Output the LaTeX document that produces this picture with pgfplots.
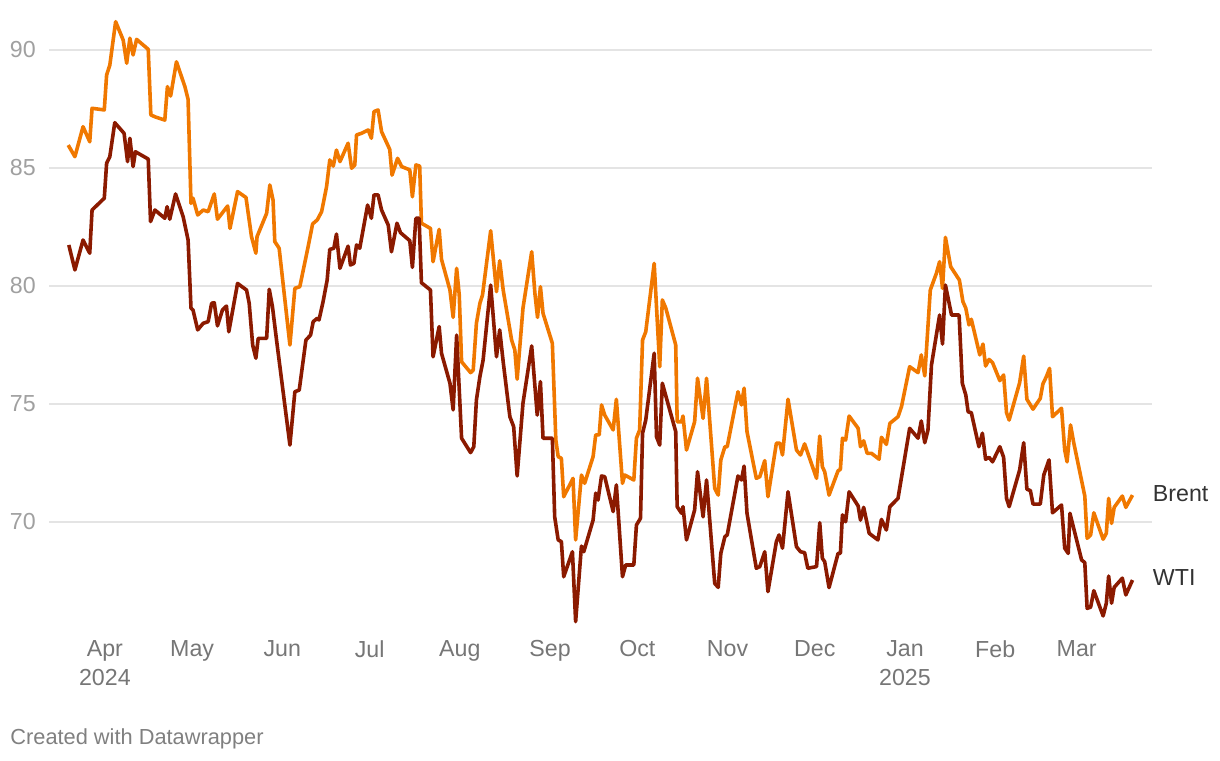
\documentclass[border=0pt]{standalone}
\usepackage{pgfplots}
\pgfplotsset{compat=1.18}
\usepackage{fontspec}
\setmainfont{Liberation Sans}
\definecolor{brent}{RGB}{240,120,0}
\definecolor{wti}{RGB}{139,26,0}
\definecolor{gridc}{RGB}{228,228,228}
\definecolor{ylab}{RGB}{160,160,160}
\definecolor{xlab}{RGB}{118,118,118}
\definecolor{foot}{RGB}{128,128,128}
\definecolor{lab}{RGB}{51,51,51}
\begin{document}
\begin{tikzpicture}
\path[use as bounding box] (-24.65pt,-65.9pt) rectangle (585.35pt,314.1pt);
\begin{axis}[
    scale only axis,
    width=551.2pt, height=306.8pt,
    xmin=-19.1, xmax=359.8,
    ymin=65.5, ymax=91.5,
    axis line style={draw=none},
    major tick length=0pt,
    ytick={70,75,80,85,90},
    ymajorgrids,
    grid style={gridc, line width=0.9pt},
    % x = days since 1 April 2024
    xtick={0,30,61,91,122,153,183,214,244,275,306,334},
    xticklabels={Apr\\2024,May,Jun,Jul,Aug,Sep,Oct,Nov,Dec,Jan\\2025,Feb,Mar},
    xticklabel style={align=center, anchor=north, inner sep=0pt, yshift=-5.9pt,
        text=xlab, font=\fontsize{11.6}{14.65}\selectfont},
    yticklabel style={anchor=east, inner sep=0pt, xshift=-6.6pt,
        text=ylab, font=\fontsize{11.6}{14}\selectfont},
    /pgf/number format/assume math mode=true,
    clip=false,
    every axis plot/.append style={line width=1.8pt, line join=round, no marks},
]
% Brent
\addplot[color=brent] coordinates {
(-12.6,85.97)(-10.3,85.48)(-7.5,86.75)(-5.2,86.11)(-4.4,87.53)(-0.2,87.46)(0.6,88.94)(1.7,89.36)
(3.7,91.20)(6.3,90.42)(7.5,89.44)(8.6,90.50)(9.7,89.79)(10.9,90.45)(14.9,90.03)(15.8,87.25)
(17.2,87.17)(20.6,87.03)(21.5,88.45)(22.6,88.05)(24.6,89.50)(27.5,88.45)(28.6,87.91)(29.6,83.50)
(30.3,83.72)(31.9,83.01)(33.8,83.22)(35.5,83.15)(37.6,83.90)(38.7,82.83)(42.2,83.39)(43.0,82.44)
(45.6,84.00)(48.5,83.75)(50.4,82.09)(51.9,81.39)(52.3,82.09)(55.6,83.08)(56.7,84.28)(57.8,83.64)
(58.4,81.88)(59.9,81.60)(63.6,77.50)(65.3,79.90)(67.0,79.97)(69.9,81.69)(71.4,82.63)(73.0,82.80)
(74.5,83.15)(76.2,84.21)(77.3,85.34)(78.5,85.08)(79.6,85.76)(80.8,85.27)(83.6,86.05)(84.8,84.99)
(85.9,85.13)(86.5,86.40)(88.2,86.47)(90.5,86.61)(91.6,86.26)(92.5,87.39)(93.9,87.46)(95.1,86.54)
(97.9,85.79)(98.7,84.70)(100.6,85.41)(102.0,85.06)(104.8,84.92)(105.7,83.78)(106.9,85.13)(108.2,85.08)
(108.8,82.66)(111.9,82.44)(112.8,81.03)(114.9,82.40)(115.7,81.13)(118.6,79.83)(119.7,78.67)(120.9,80.75)
(121.8,79.62)(122.6,76.79)(125.7,76.33)(126.6,76.44)(127.7,78.42)(128.9,79.27)(129.8,79.62)(132.6,82.34)
(134.6,79.76)(135.7,81.07)(136.9,79.83)(139.8,77.71)(140.9,77.29)(141.7,76.05)(143.7,79.06)(146.7,81.45)
(147.8,79.69)(148.7,78.67)(149.7,79.97)(150.6,78.84)(153.8,77.57)(155.0,73.47)(155.8,72.77)(156.9,72.70)
(157.7,71.07)(160.9,71.85)(161.8,69.24)(163.8,71.99)(164.9,71.64)(167.8,72.77)(168.7,73.69)(169.9,73.69)
(170.7,74.96)(171.8,74.53)(174.7,73.90)(175.8,75.20)(177.9,71.64)(178.7,71.99)(181.8,71.78)(182.7,73.55)
(183.8,73.90)(184.8,77.71)(185.9,78.06)(188.8,80.96)(190.7,76.58)(191.6,79.41)(192.8,79.06)(196.2,77.50)
(196.7,74.25)(198.2,74.25)(198.7,74.49)(199.9,73.05)(202.7,74.25)(203.7,76.09)(205.6,74.39)(206.8,76.09)
(209.6,71.43)(210.8,71.14)(211.7,72.63)(213.1,73.19)(213.9,73.19)(217.6,75.52)(218.8,74.96)(219.7,75.67)
(220.7,73.83)(223.9,71.85)(225.1,71.92)(226.8,72.60)(227.9,71.07)(230.8,73.34)(232.0,73.34)(232.9,72.84)
(234.8,75.20)(237.7,73.05)(239.1,72.84)(240.5,73.31)(244.6,71.85)(245.7,73.64)(246.6,72.34)(247.4,72.13)
(248.9,71.14)(252.0,72.17)(252.8,72.23)(253.5,73.55)(254.6,73.47)(255.8,74.49)(258.9,73.97)(259.7,73.19)
(260.8,73.44)(262.0,72.91)(263.5,72.91)(266.1,72.66)(266.9,73.59)(268.6,73.29)(269.8,74.18)(272.6,74.46)
(273.8,74.89)(276.6,76.58)(279.5,76.33)(280.6,77.08)(281.8,76.19)(283.7,79.83)(285.8,80.54)(286.9,81.03)
(287.9,79.90)(288.9,82.06)(290.7,80.82)(293.7,80.25)(294.9,79.34)(295.9,79.06)(297.0,78.35)(297.8,78.59)
(300.7,77.08)(301.8,77.54)(302.7,76.61)(303.9,76.89)(305.1,76.75)(307.6,75.99)(308.9,76.23)(309.9,74.63)
(310.8,74.32)(314.4,75.90)(315.8,77.03)(316.9,75.20)(319.0,74.78)(321.5,75.24)(322.4,75.85)(323.6,76.16)
(324.7,76.51)(325.7,74.46)(328.8,74.82)(329.9,73.05)(330.7,72.55)(331.9,74.11)(333.0,73.36)(336.8,71.10)
(337.6,69.31)(338.8,69.45)(339.9,70.39)(343.1,69.27)(344.2,69.52)(345.0,71.00)(346.0,69.94)(346.9,70.62)
(349.7,71.10)(350.9,70.62)(353.2,71.14)
};
% WTI
\addplot[color=wti] coordinates {
(-12.4,81.74)(-10.3,80.68)(-7.5,81.95)(-5.2,81.39)(-4.4,83.22)(-0.2,83.72)(0.6,85.20)(1.7,85.48)
(3.4,86.92)(6.6,86.47)(7.8,85.27)(8.6,86.26)(9.7,85.06)(10.5,85.69)(14.9,85.38)(15.7,82.73)
(17.2,83.22)(20.6,82.87)(21.4,83.36)(22.3,82.83)(24.3,83.90)(26.9,82.94)(28.6,81.95)(29.6,79.06)
(30.3,78.98)(31.9,78.14)(33.8,78.42)(35.5,78.49)(36.7,79.27)(37.6,79.29)(38.7,78.31)(40.4,78.98)
(41.8,79.15)(42.6,78.06)(45.6,80.11)(47.9,79.90)(48.7,79.83)(49.6,79.27)(50.8,77.50)(51.9,76.94)
(52.7,77.78)(55.6,77.78)(56.5,79.86)(57.6,79.12)(59.0,77.71)(63.6,73.26)(65.3,75.52)(66.8,75.59)
(69.1,77.71)(70.7,77.92)(71.6,78.49)(73.0,78.63)(73.6,78.56)(75.0,79.34)(76.4,80.25)(77.3,81.55)
(78.7,81.60)(79.6,82.20)(80.8,80.75)(83.6,81.69)(84.4,80.89)(85.6,80.96)(86.5,81.74)(87.6,81.60)
(90.3,83.43)(91.6,82.87)(92.5,83.86)(93.9,83.86)(95.1,83.22)(97.4,82.58)(98.5,81.45)(100.4,82.66)
(101.6,82.26)(104.8,81.92)(105.7,80.79)(106.9,82.87)(108.0,82.87)(108.8,80.14)(111.9,79.83)(112.8,77.00)
(114.9,78.28)(115.7,77.15)(118.6,75.88)(119.7,74.75)(120.9,77.92)(122.6,73.55)(125.7,72.94)(126.8,73.19)
(127.7,75.17)(128.9,76.16)(130.0,76.86)(132.6,80.04)(134.6,77.00)(135.7,78.14)(136.9,76.79)(139.2,74.46)
(140.5,74.04)(141.7,71.95)(143.7,75.03)(146.7,77.46)(148.6,74.53)(149.7,75.95)(150.6,73.55)(153.8,73.55)
(154.6,70.22)(155.8,69.24)(156.9,69.17)(157.7,67.68)(160.7,68.74)(161.8,65.78)(163.8,68.98)(164.6,68.74)
(167.8,70.08)(168.7,71.22)(169.5,70.93)(170.7,71.95)(171.8,71.92)(174.7,70.44)(175.8,71.57)(177.9,67.68)
(179.0,68.18)(181.8,68.18)(182.7,69.87)(184.1,70.16)(184.8,73.76)(185.9,74.32)(188.8,77.15)(189.6,73.61)
(190.7,73.26)(191.6,75.88)(196.2,73.83)(196.7,70.65)(198.2,70.37)(198.7,70.65)(199.9,69.24)(202.7,70.51)
(203.7,72.13)(205.6,70.22)(206.8,71.78)(209.6,67.40)(210.8,67.23)(211.7,68.67)(213.1,69.38)(213.9,69.45)
(217.6,71.95)(218.8,71.78)(219.7,72.37)(220.7,70.37)(223.9,68.04)(225.1,68.11)(226.8,68.74)(227.9,67.05)
(230.8,69.17)(231.7,69.45)(232.9,68.89)(234.8,71.28)(237.7,68.95)(239.1,68.74)(240.5,68.70)(241.6,68.04)
(244.6,68.11)(245.7,69.97)(246.6,68.46)(247.4,68.32)(248.9,67.22)(252.0,68.67)(252.8,68.67)(253.5,70.30)
(254.6,70.01)(255.8,71.28)(258.9,70.68)(259.7,70.08)(260.8,70.62)(262.7,69.52)(265.7,69.24)(266.9,70.11)
(268.6,69.66)(269.8,70.65)(272.6,71.00)(276.6,73.97)(279.5,73.55)(280.6,74.28)(281.8,73.36)(282.9,73.90)
(284.1,76.65)(286.9,78.77)(287.9,77.54)(288.9,80.04)(291.0,78.77)(293.6,78.77)(294.7,75.88)(295.9,75.38)
(296.7,74.67)(297.8,74.63)(300.4,73.19)(301.6,73.76)(302.7,72.66)(303.9,72.74)(305.1,72.55)(307.6,73.19)
(308.9,72.74)(309.9,71.00)(310.8,70.65)(314.4,72.20)(315.8,73.36)(316.9,71.39)(318.1,71.33)(319.0,70.76)
(321.5,70.76)(322.7,71.99)(324.5,72.63)(325.7,70.39)(328.8,70.72)(329.9,68.89)(331.1,68.67)(331.7,70.37)
(335.7,68.39)(336.8,68.28)(337.6,66.34)(338.8,66.39)(339.9,67.09)(343.1,66.02)(344.2,66.56)(345.0,67.71)
(346.0,66.56)(346.9,67.23)(349.7,67.62)(350.9,66.91)(353.2,67.54)
};
\node[anchor=base west, inner sep=0pt, text=lab, font=\fontsize{11.6}{14}\selectfont]
    at (axis cs:360.1,70.86) {Brent};
\node[anchor=base west, inner sep=0pt, text=lab, font=\fontsize{11.6}{14}\selectfont]
    at (axis cs:360.1,67.33) {WTI};
\end{axis}
\node[anchor=base west, inner sep=0pt, text=foot, font=\fontsize{10.9}{13}\selectfont]
    at (-19.65pt,-57.9pt) {Created with Datawrapper};
\end{tikzpicture}
\end{document}
